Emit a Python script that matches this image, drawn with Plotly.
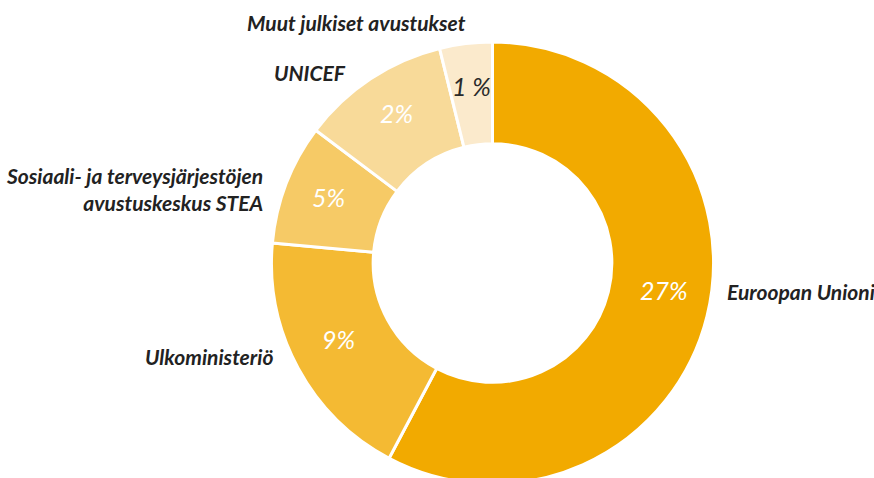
import plotly.graph_objects as go

labels = ["Euroopan Unioni", "Ulkoministeriö",
          "Sosiaali- ja terveysjärjestöjen<br>avustuskeskus STEA",
          "UNICEF", "Muut julkiset avustukset"]
values = [57.75, 18.7, 8.8, 10.9, 3.85]
pct_text = ["27%", "9%", "5%", "2%", "1 %"]
colors = ["#F2AA00", "#F4BA33", "#F6CA66", "#F8DA99", "#FBEACC"]
text_colors = ["#FFFFFF", "#FFFFFF", "#FFFFFF", "#FFFFFF", "#2A2A2A"]

W, H = 874, 486  # slightly taller than the window: the donut bottom is cropped

# outside label anchors in page pixels (x, y, alignment)
label_px = [(725, 291, "left"), (275, 356, "right"), (265, 189, "right"),
            (348, 72, "right"), (468, 22, "right")]
# percentage label centres in page pixels
pct_px = [(664, 290), (338, 339), (328.5, 197), (396, 113), (471.7, 85.5)]


def px(x, y):
    return x / W, (H - y) / H


cx, cy, r = 492.5, 263, 221
fig = go.Figure(go.Pie(
    labels=labels, values=values, textinfo="none",
    marker=dict(colors=colors, line=dict(color="white", width=3)),
    hole=0.54, sort=False, direction="clockwise", rotation=0,
    domain=dict(x=[(cx - r) / W, (cx + r) / W], y=[(H - cy - r) / H, (H - cy + r) / H]),
    showlegend=False, hoverinfo="label",
))

for lab, (x, y, al) in zip(labels, label_px):
    ax, ay = px(x, y)
    fig.add_annotation(
        x=ax, y=ay, xref="paper", yref="paper", text=lab, showarrow=False,
        xanchor=al, yanchor="middle", align=al,
        font=dict(family="Lato", size=21, color="#222222", style="italic", weight="bold"),
    )

for t, c, (x, y) in zip(pct_text, text_colors, pct_px):
    ax, ay = px(x, y)
    fig.add_annotation(
        x=ax, y=ay, xref="paper", yref="paper", text=t, showarrow=False,
        xanchor="center", yanchor="middle",
        font=dict(family="Lato", size=25, color=c, style="italic", weight=400),
    )

fig.update_layout(
    width=W, height=H, margin=dict(l=0, r=0, t=0, b=0),
    paper_bgcolor="white", plot_bgcolor="white",
)
fig.write_html(
    "out.html",
    config={"displayModeBar": False},
    post_script="document.body.style.margin='0';document.body.style.overflow='hidden';"
                "document.documentElement.style.overflow='hidden';",
)
